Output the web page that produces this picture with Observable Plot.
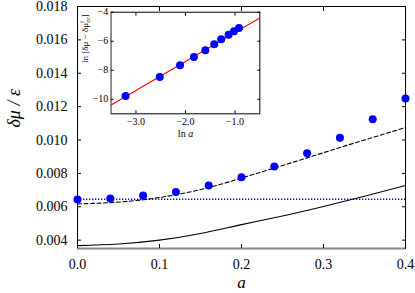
<!DOCTYPE html>
<html>
<head>
<meta charset="utf-8">
<script src="https://cdn.jsdelivr.net/npm/d3@7"></script>
<script src="https://cdn.jsdelivr.net/npm/@observablehq/plot@0.6"></script>
<style>
  html, body { margin: 0; padding: 0; background: white; }
  #wrap { position: relative; width: 415px; height: 293px; }
  #inset { position: absolute; left: 78px; top: 0px; }
  #wrap svg, #wrap svg text { font-family: "Liberation Serif", "Times New Roman", serif !important; }
</style>
</head>
<body>
<div id="wrap"><div id="main"></div><div id="inset"></div></div>
<script>
// ---- main panel data ----
const aPoints  = [0, 0.04, 0.08, 0.12, 0.16, 0.20, 0.24, 0.28, 0.32, 0.36, 0.40];
const muPoints = [0.00644, 0.00650, 0.00668, 0.00689, 0.00728, 0.00777, 0.00841, 0.00921, 0.01013, 0.01125, 0.01249];
const aDashed  = [0, 0.04, 0.08, 0.12, 0.16, 0.20, 0.24, 0.28, 0.32, 0.36, 0.40];
const muDashed = [0.00617, 0.00625, 0.00642, 0.00672, 0.00715, 0.00772, 0.00832, 0.00893, 0.00955, 0.01015, 0.01075];
const aSolid   = [0, 0.05, 0.10, 0.15, 0.20, 0.25, 0.30, 0.35, 0.40];
const muSolid  = [0.00367, 0.00377, 0.00400, 0.00440, 0.00493, 0.00545, 0.00602, 0.00663, 0.00728];
const muDotted = [0.00645];
const xDomain = [0, 0.4];
const yDomain = [0.0035, 0.018];
const xTicks = [0, 0.1, 0.2, 0.3, 0.4];
const yTicks = [0.004, 0.006, 0.008, 0.010, 0.012, 0.014, 0.016, 0.018];
const xLabel = "a";
const yLabel = "δμ / ε";

// ---- inset data ----
const lnA    = [-3.21, -2.52, -2.11, -1.83, -1.60, -1.42, -1.28, -1.13, -1.02, -0.92];
const lnDiff = [-9.77, -8.46, -7.66, -7.08, -6.62, -6.21, -5.86, -5.56, -5.31, -5.08];
const fitX = [-3.5, -0.5];
const fitY = [-10.39, -4.39];
const inXDomain = [-3.5, -0.5];
const inYDomain = [-11, -4];
const inXTicks = [-3, -2, -1];
const inYTicks = [-4, -6, -8, -10];
const inXLabel = "ln a";
const inYLabel = "ln [δμ − δμIcc]";

const pts = aPoints.map((a, i) => ({a, mu: muPoints[i]}));
const dashed = aDashed.map((a, i) => ({a, mu: muDashed[i]}));
const solid = aSolid.map((a, i) => ({a, mu: muSolid[i]}));
const inPts = lnA.map((x, i) => ({x, y: lnDiff[i]}));
const fit = fitX.map((x, i) => ({x, y: fitY[i]}));

const blank = () => "";
const font = "Liberation Serif";

const main = Plot.plot({
  width: 415, height: 293,
  marginLeft: 77, marginRight: 10, marginTop: 6, marginBottom: 45,
  x: {domain: xDomain},
  y: {domain: yDomain},
  style: {fontFamily: font, fontSize: "14px", background: "white", color: "black", overflow: "visible"},
  marks: [
    Plot.ruleY(muDotted, {stroke: "#0000ff", strokeWidth: 1.3, strokeDasharray: "1.3,1.7"}),
    Plot.line(solid, {x: "a", y: "mu", stroke: "black", strokeWidth: 1.1, curve: "natural"}),
    Plot.line(dashed, {x: "a", y: "mu", stroke: "black", strokeWidth: 1.1, strokeDasharray: "4,2.5", curve: "natural"}),
    Plot.dot(pts, {x: "a", y: "mu", r: 4, fill: "#0000ff"}),
    Plot.frame({stroke: "black"}),
    Plot.ruleY([yDomain[0]], {stroke: "#888", strokeWidth: 2}),
    // inward ticks on all sides
    Plot.axisY(yTicks, {anchor: "left", tickSize: 4, dx: 4, tickFormat: blank, label: null}),
    Plot.axisY(yTicks, {anchor: "right", tickSize: 4, dx: -4, tickFormat: blank, label: null}),
    Plot.axisX(xTicks, {anchor: "bottom", tickSize: 4, dy: -4, tickFormat: blank, label: null}),
    Plot.axisX(xTicks, {anchor: "top", tickSize: 4, dy: 4, tickFormat: blank, label: null}),
    // tick labels
    Plot.axisY(yTicks, {anchor: "left", tickSize: 0, tickPadding: 10, tickFormat: d3.format(".3f"), label: null}),
    Plot.axisX(xTicks, {anchor: "bottom", tickSize: 0, tickPadding: 11, tickFormat: d3.format(".1f"), label: null}),
    // axis titles
    Plot.text([yLabel], {text: d => d, frameAnchor: "left", dx: -63, rotate: -90, fontSize: 18, fontStyle: "italic", lineAnchor: "middle"}),
    Plot.text([xLabel], {text: d => d, frameAnchor: "bottom", dy: 34, fontSize: 17, fontStyle: "italic", lineAnchor: "middle"})
  ]
});
document.getElementById("main").appendChild(main);

const inset = Plot.plot({
  width: 192, height: 140,
  marginLeft: 32.7, marginRight: 10.7, marginTop: 11.7, marginBottom: 26.7,
  x: {domain: inXDomain},
  y: {domain: inYDomain},
  style: {fontFamily: font, fontSize: "10px", background: "transparent", color: "black", overflow: "visible"},
  marks: [
    Plot.frame({fill: "white", stroke: "black"}),
    Plot.ruleX([inXDomain[0]], {stroke: "#888", strokeWidth: 1.6}),
    Plot.line(fit, {x: "x", y: "y", stroke: "#ff0000", strokeWidth: 1.1, clip: true}),
    Plot.dot(inPts, {x: "x", y: "y", r: 4, fill: "#0000ff"}),
    Plot.axisY(inYTicks, {anchor: "left", tickSize: 3, dx: 3, tickFormat: blank, label: null}),
    Plot.axisY(inYTicks, {anchor: "right", tickSize: 3, dx: -3, tickFormat: blank, label: null}),
    Plot.axisX(inXTicks, {anchor: "bottom", tickSize: 3, dy: -3, tickFormat: blank, label: null}),
    Plot.axisX(inXTicks, {anchor: "top", tickSize: 3, dy: 3, tickFormat: blank, label: null}),
    Plot.axisY(inYTicks, {anchor: "left", tickSize: 0, tickPadding: 3, tickFormat: d3.format("d"), label: null}),
    Plot.axisX(inXTicks, {anchor: "bottom", tickSize: 0, tickPadding: 4, tickFormat: d3.format(".1f"), label: null}),
    Plot.text([inXLabel], {text: d => d, frameAnchor: "bottom", dy: 19.5, fontSize: 10, lineAnchor: "middle"}),
    Plot.text([inYLabel], {text: d => d, frameAnchor: "left", dx: -26.5, rotate: -90, fontSize: 9, lineAnchor: "middle"})
  ]
});
document.getElementById("inset").appendChild(inset);

// rich text for inset labels (italic a, super/subscripts)
d3.select(inset).selectAll("text").filter(function() { return this.textContent === inXLabel; })
  .each(function() {
    const t = d3.select(this); t.text(null);
    t.append("tspan").text("ln ");
    t.append("tspan").attr("font-style", "italic").text("a");
  });
d3.select(inset).selectAll("text").filter(function() { return this.textContent === inYLabel; })
  .each(function() {
    const t = d3.select(this); t.text(null);
    t.append("tspan").text("ln [δμ − δμ");
    t.append("tspan").attr("font-size", "6px").attr("dy", "-3.5").text("I");
    t.append("tspan").attr("font-size", "6px").attr("dx", "-1.5").attr("dy", "6").text("cc");
    t.append("tspan").attr("dy", "-2.5").text("]");
  });
</script>
</body>
</html>
